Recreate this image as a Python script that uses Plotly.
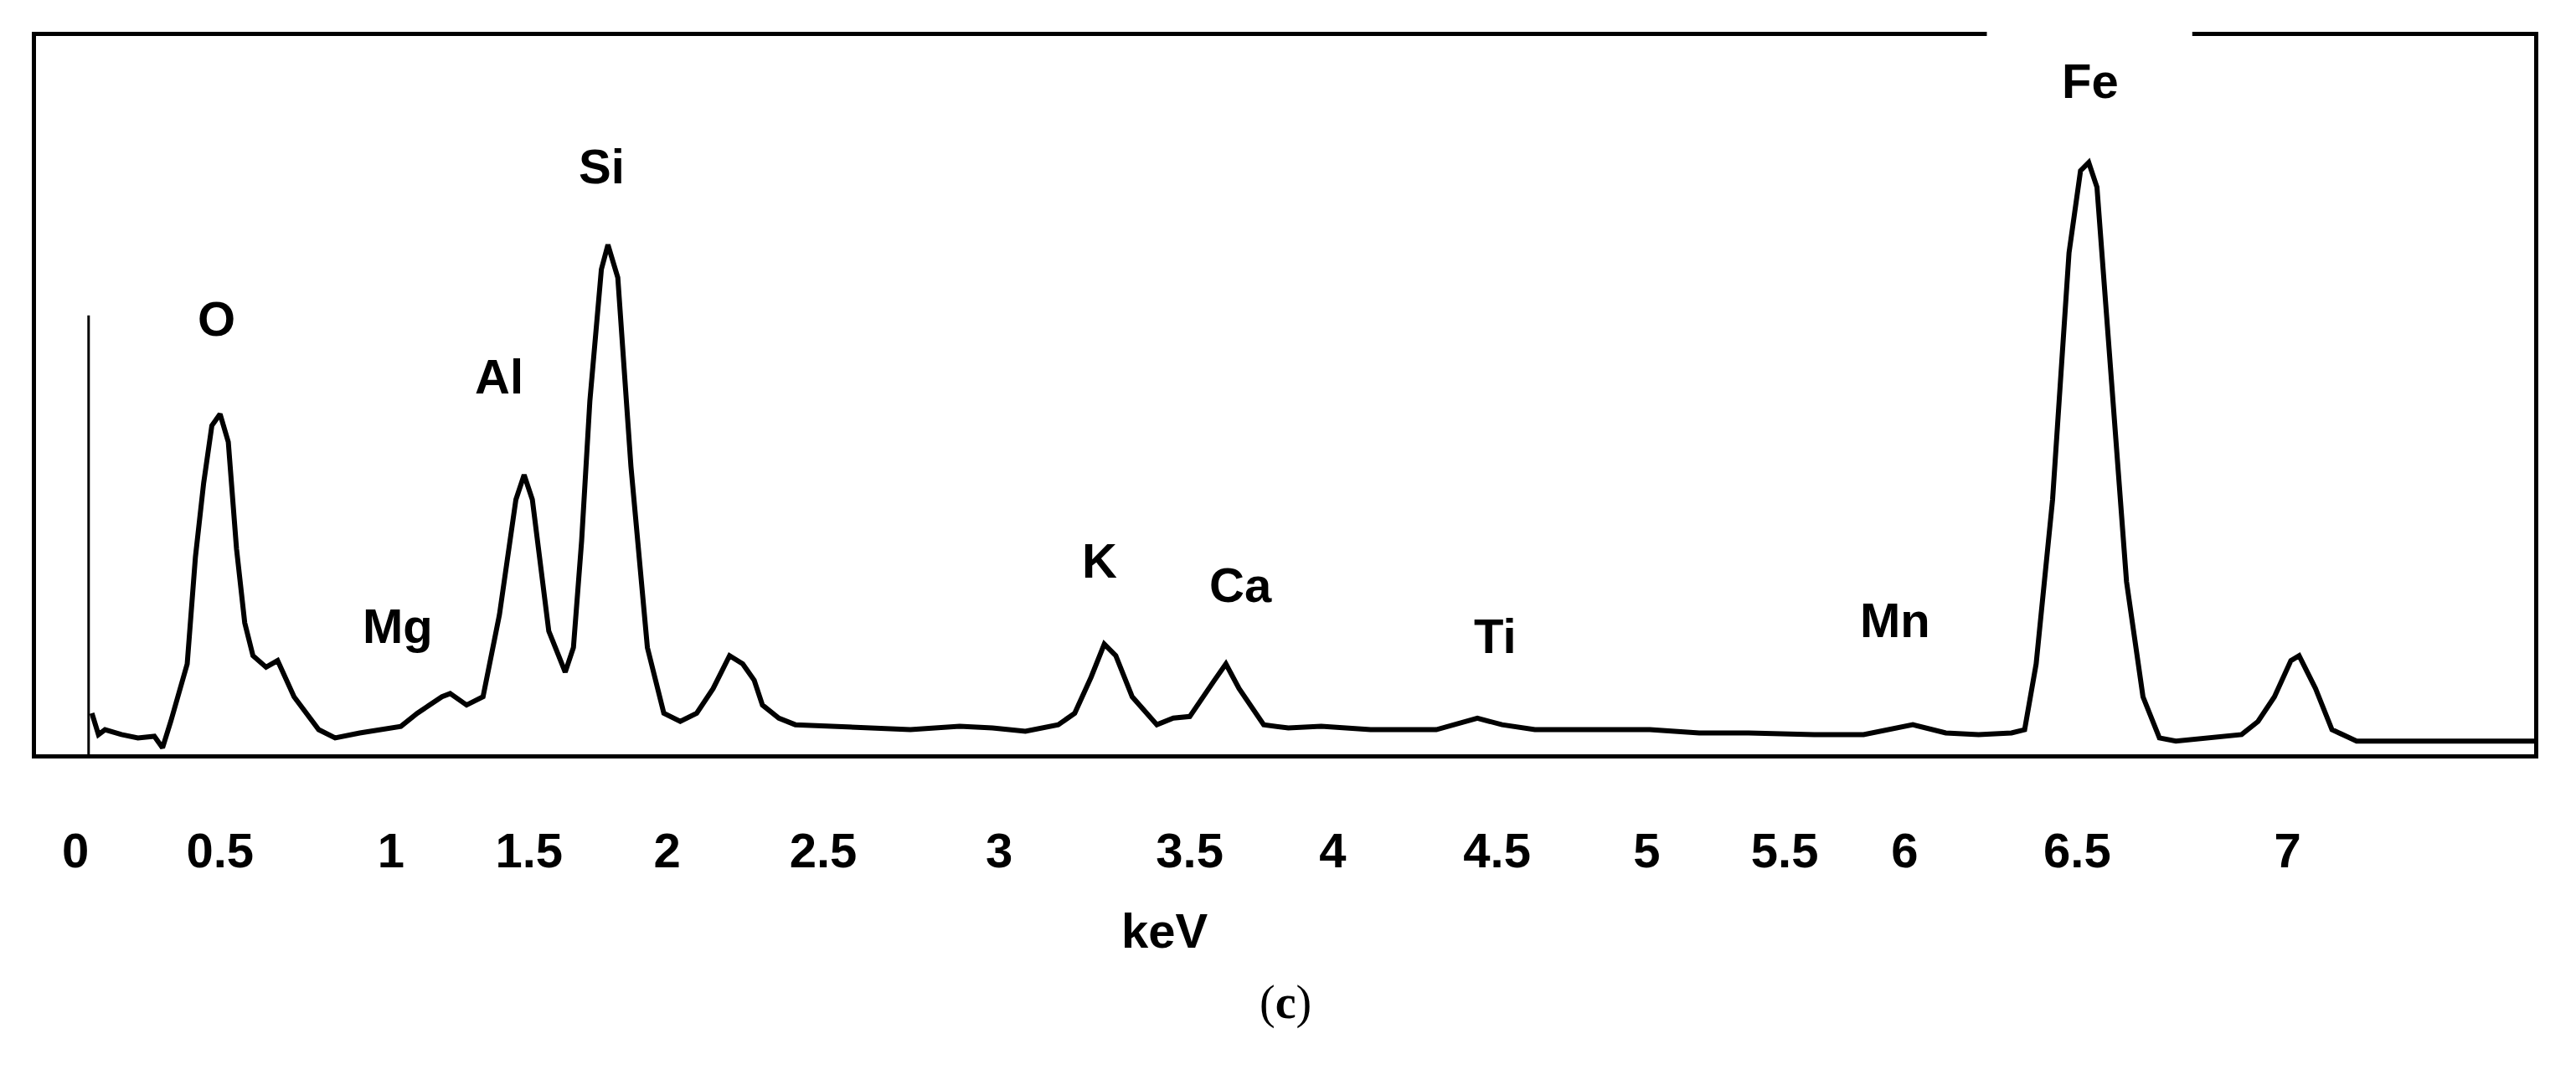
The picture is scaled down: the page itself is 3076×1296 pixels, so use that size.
import plotly.graph_objects as go

# spectrum (position along axis, counts in arbitrary units)
pos = [52,56,60,70,80,90,95,100,110,115,120,125,130,135,140,145,150,158,165,175,190,200,215,230,240,250,265,270,280,290,300,310,315,320,330,340,345,350,355,362,366,372,380,390,400,410,420,430,440,448,455,460,470,480,500,520,550,580,600,620,640,650,660,668,675,685,700,710,720,735,742,750,765,780,800,830,850,870,895,910,930,950,970,1000,1030,1060,1100,1130,1160,1180,1200,1220,1228,1235,1245,1255,1262,1267,1272,1280,1290,1300,1310,1320,1340,1360,1370,1380,1390,1395,1400,1405,1415,1430,1460,1500,1538]
cnt = [25,12,15,12,10,11,4,20,55,120,165,200,207,190,125,80,60,53,57,35,15,10,13,15,17,25,35,37,30,35,85,155,170,155,75,50,65,130,215,295,310,290,175,65,25,20,25,40,60,55,45,30,22,18,17,16,15,17,16,14,18,25,47,67,60,35,18,22,23,45,55,40,18,16,17,15,15,15,22,18,15,15,15,15,13,13,12,12,18,13,12,13,15,55,155,305,355,360,345,235,105,35,10,8,10,12,20,35,57,60,50,40,15,8,8,8,8]
spike_pos = [50, 50]
spike_cnt = [0, 267]

tick_pos = [42,130,234,318,402,497,604,720,807,907,998,1082,1155,1260,1388]
tick_txt = ["0","0.5","1","1.5","2","2.5","3","3.5","4","4.5","5","5.5","6","6.5","7"]

elements = ["O","Mg","Al","Si","K","Ca","Ti","Mn","Fe"]
el_pos = [128,238,300,362,665,751,906,1149,1268]
el_cnt = [265,78,230,358,118,103,72,82,410]

fig = go.Figure()
fig.add_trace(go.Scatter(x=pos, y=cnt, mode="lines", line=dict(color="black", width=6), showlegend=False))
fig.add_trace(go.Scatter(x=spike_pos, y=spike_cnt, mode="lines", line=dict(color="black", width=3), showlegend=False))

for e, xp, yc in zip(elements, el_pos, el_cnt):
    fig.add_annotation(x=xp, y=yc, text="<b>%s</b>" % e, showarrow=False,
                       font=dict(family="Liberation Sans, Arial", size=58, color="black"),
                       xanchor="center", yanchor="middle")

# gap in the top frame behind the Fe label
fig.add_shape(type="rect", xref="x", yref="paper", x0=1205, x1=1330, y0=0.985, y1=1.02,
              fillcolor="white", line=dict(width=0), layer="above")

fig.add_annotation(x=705, xref="x", y=-0.285, yref="paper", text="<b>keV</b>", showarrow=False,
                   font=dict(family="Liberation Sans, Arial", size=58, color="black"))
fig.add_annotation(x=0.5, xref="paper", y=-0.385, yref="paper", text="(<b>c</b>)", showarrow=False,
                   font=dict(family="Liberation Serif, Times New Roman", size=56, color="black"))

fig.update_layout(
    width=3076, height=1296,
    margin=dict(l=35, r=58, t=35, b=403),
    plot_bgcolor="white", paper_bgcolor="white",
    xaxis=dict(range=[18,1538], tickvals=tick_pos, ticktext=["<b>%s</b>" % t for t in tick_txt],
               showgrid=False, zeroline=False, showline=True, linecolor="black", linewidth=5, mirror=True,
               ticks="", ticklabelstandoff=60,
               tickfont=dict(family="Liberation Sans, Arial", size=58, color="black")),
    yaxis=dict(range=[0,437], showticklabels=False, showgrid=False, zeroline=False,
               showline=True, linecolor="black", linewidth=5, mirror=True, ticks=""),
)
fig.write_html("out.html")
